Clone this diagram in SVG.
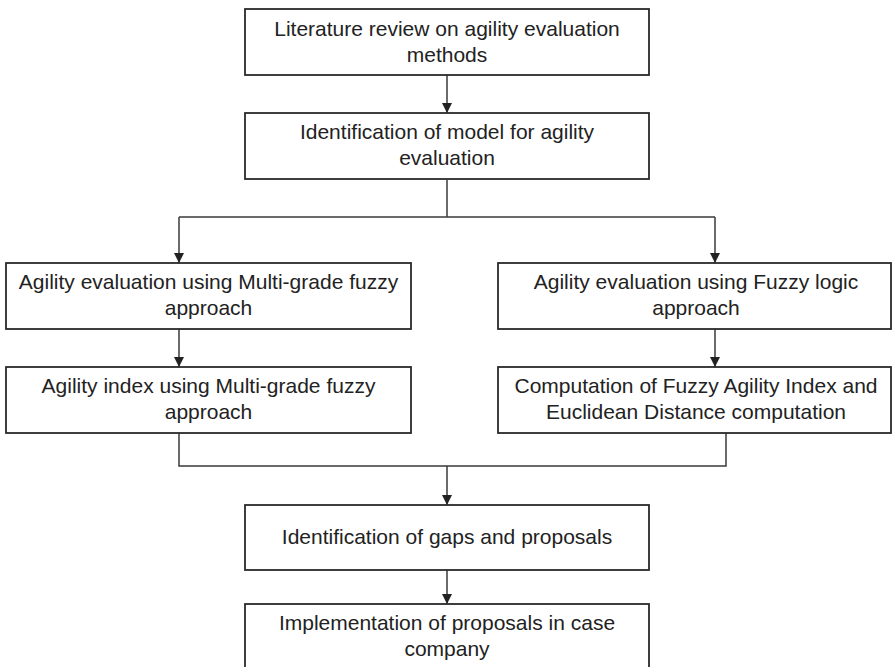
<svg xmlns="http://www.w3.org/2000/svg" width="893" height="667" viewBox="0 0 893 667">
<style>
.box{fill:#fff;stroke:#2a2a2a;stroke-width:1.8}
.t{font-family:"Liberation Sans",Arial,sans-serif;font-size:21px;fill:#222;text-anchor:middle}
.c{fill:none;stroke:#3a3a3a;stroke-width:1.5}
</style>
<defs>
<marker id="ah" markerUnits="userSpaceOnUse" markerWidth="10" markerHeight="11" refX="10" refY="5" orient="auto">
<path d="M0,0 L10,5 L0,10 z" fill="#222"/>
</marker>
</defs>
<rect width="893" height="667" fill="#fff"/>
<g id="connectors">
<path class="c" d="M447,75 V113" marker-end="url(#ah)"/>
<path class="c" d="M447,180 V217"/>
<path class="c" d="M179,217 H715"/>
<path class="c" d="M179,217 V263" marker-end="url(#ah)"/>
<path class="c" d="M715,217 V263" marker-end="url(#ah)"/>
<path class="c" d="M179,329 V367" marker-end="url(#ah)"/>
<path class="c" d="M715,329 V367" marker-end="url(#ah)"/>
<path class="c" d="M179,433 V466 H726 V433"/>
<path class="c" d="M447,466 V505" marker-end="url(#ah)"/>
<path class="c" d="M447,570 V604" marker-end="url(#ah)"/>
</g>
<g id="n1">
<rect class="box" x="245" y="9" width="404" height="66"/>
<text class="t" x="447" y="36">Literature review on agility evaluation</text>
<text class="t" x="447" y="62">methods</text>
</g>
<g id="n2">
<rect class="box" x="245" y="113" width="404" height="66"/>
<text class="t" x="447" y="139">Identification of model for agility</text>
<text class="t" x="447" y="165">evaluation</text>
</g>
<g id="n3">
<rect class="box" x="6" y="263" width="405" height="66"/>
<text class="t" x="208.5" y="289">Agility evaluation using Multi-grade fuzzy</text>
<text class="t" x="208.5" y="315">approach</text>
</g>
<g id="n4">
<rect class="box" x="498" y="263" width="393" height="66"/>
<text class="t" x="696" y="289">Agility evaluation using Fuzzy logic</text>
<text class="t" x="696" y="315">approach</text>
</g>
<g id="n5">
<rect class="box" x="6" y="367" width="405" height="66"/>
<text class="t" x="208.5" y="393">Agility index using Multi-grade fuzzy</text>
<text class="t" x="208.5" y="419">approach</text>
</g>
<g id="n6">
<rect class="box" x="498" y="367" width="393" height="66"/>
<text class="t" x="696" y="393">Computation of Fuzzy Agility Index and</text>
<text class="t" x="696" y="419">Euclidean Distance computation</text>
</g>
<g id="n7">
<rect class="box" x="245" y="505" width="404" height="65"/>
<text class="t" x="447" y="544">Identification of gaps and proposals</text>
</g>
<g id="n8">
<rect class="box" x="245" y="604" width="404" height="80"/>
<text class="t" x="447" y="630">Implementation of proposals in case</text>
<text class="t" x="447" y="656">company</text>
</g>
</svg>
